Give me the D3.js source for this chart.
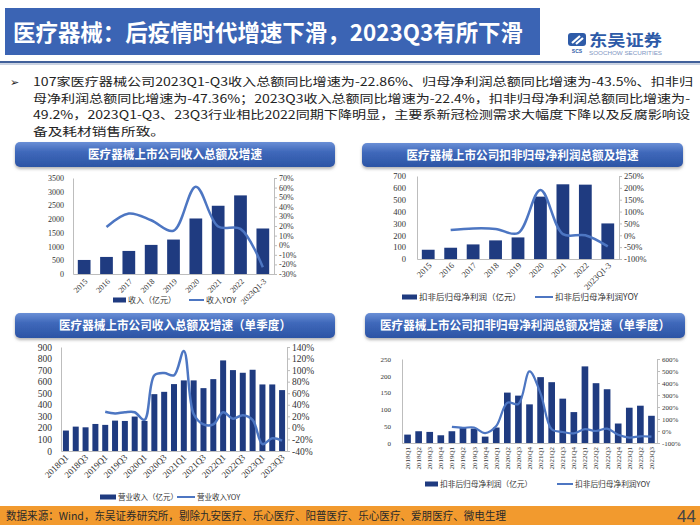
<!DOCTYPE html>
<html><head><meta charset="utf-8">
<script src="https://cdn.jsdelivr.net/npm/d3@7"></script>
<style>body{margin:0;background:#fff}svg{display:block}</style>
</head><body><svg id="c" width="700" height="525"></svg>
<script>
// ---------- data ----------
const annualCats = ["2015","2016","2017","2018","2019","2020","2021","2022","2023Q1-3"];
const revenueAnnual = [512,622,841,1061,1256,2024,2488,2866,1659];
const revenueAnnualYoY = [null,19,33,26,15,61,19.5,17,-23];
const profitAnnual = [78,95,123,157,182,526,630,627,300];
const profitAnnualYoY = [null,22,29,27,9,191,5,0,-47];
const quarterCats = ["2018Q1","2018Q2","2018Q3","2018Q4","2019Q1","2019Q2","2019Q3","2019Q4",
  "2020Q1","2020Q2","2020Q3","2020Q4","2021Q1","2021Q2","2021Q3","2021Q4",
  "2022Q1","2022Q2","2022Q3","2022Q4","2023Q1","2023Q2","2023Q3"];
const revenueQuarter = [177,211,205,234,226,263,260,298,260,492,512,579,611,611,544,622,784,700,677,703,576,576,527];
const revenueQuarterYoY = [null,null,null,null,28,25,27,27,14,91,95,91,133,24,6,6,27,16,22,14,-28,-18,-22];
const profitQuarter = [25,35,33,23,35,45,43,19,46,150,141,115,196,181,132,92,228,178,160,58,105,111,81];
const profitQuarterYoY = [null,null,null,null,34,27,29,-17,42,236,225,497,312,14,-8,-20,15,0,20,-32,-55,-44,-47];

const revTicksL = [0,500,1000,1500,2000,2500,3000,3500];
const revTicksR = [-30,-20,-10,0,10,20,30,40,50,60,70];
const proTicksL = [0,100,200,300,400,500,600,700];
const proTicksR = [-100,-50,0,50,100,150,200,250];
const revQTicksL = [0,100,200,300,400,500,600,700,800,900];
const revQTicksR = [-40,-20,0,20,40,60,80,100,120,140];
const proQTicksL = [0,50,100,150,200,250];
const proQTicksR = [-100,0,100,200,300,400,500,600];

const titleText = "医疗器械：后疫情时代增速下滑，2023Q3有所下滑";
const bulletLines = [
  "107家医疗器械公司2023Q1-Q3收入总额同比增速为-22.86%、归母净利润总额同比增速为-43.5%、扣非归",
  "母净利润总额同比增速为-47.36%；2023Q3收入总额同比增速为-22.4%，扣非归母净利润总额同比增速为-",
  "49.2%，2023Q1-Q3、23Q3行业相比2022同期下降明显，主要系新冠检测需求大幅度下降以及反腐影响设",
  "备及耗材销售所致。"
];
const footText = "数据来源：Wind，东吴证券研究所，剔除九安医疗、乐心医疗、阳普医疗、乐心医疗、爱朋医疗、微电生理";

// ---------- styles ----------
const CJK = "'Noto Sans CJK SC','Noto Sans',sans-serif";
const SERIF = "'Liberation Serif','DejaVu Serif',serif";
const BAR = "#1f3b80", LINE = "#4d76c2", AX = "#bdbdbd", TXT = "#333";

const svg = d3.select("#c");
svg.append("rect").attr("width",700).attr("height",525).attr("fill","#fff");
const defs = svg.append("defs");
const gr = defs.append("linearGradient").attr("id","hdr").attr("x1",0).attr("y1",0).attr("x2",0).attr("y2",1);
gr.append("stop").attr("offset","0%").attr("stop-color","#6a8fd6");
gr.append("stop").attr("offset","40%").attr("stop-color","#3f68ba");
gr.append("stop").attr("offset","100%").attr("stop-color","#2c55a5");
const fl = defs.append("filter").attr("id","sh").attr("x","-5%").attr("y","-20%").attr("width","110%").attr("height","160%");
fl.append("feDropShadow").attr("dx",0).attr("dy",2).attr("stdDeviation",1.5).attr("flood-color","#777").attr("flood-opacity",0.55);

// ---------- title ----------
svg.append("rect").attr("x",5).attr("y",8).attr("width",535).attr("height",47).attr("fill","#3b64b4");
svg.append("text").attr("x",13).attr("y",41).text(titleText)
  .attr("font-family",CJK).attr("font-weight","bold").attr("font-size",23).attr("fill","#fff")
  .attr("textLength",510).attr("lengthAdjust","spacingAndGlyphs");

// logo
svg.append("rect").attr("x",568).attr("y",33).attr("width",18).attr("height",13).attr("rx",3).attr("fill","#2e5ba8");
svg.append("path").attr("d","M572,43 L580,36 M576,44 L583,38").attr("stroke","#fff").attr("stroke-width",2.2).attr("fill","none");
svg.append("text").attr("x",577).attr("y",53).attr("text-anchor","middle").text("SCS")
  .attr("font-family","'Liberation Sans',sans-serif").attr("font-weight","bold").attr("font-size",5).attr("fill","#2e5ba8");
svg.append("text").attr("x",589).attr("y",46).text("东吴证券")
  .attr("font-family",CJK).attr("font-weight","bold").attr("font-size",16).attr("fill","#2e5ba8")
  .attr("textLength",73).attr("lengthAdjust","spacingAndGlyphs");
svg.append("text").attr("x",589).attr("y",55).text("SOOCHOW SECURITIES")
  .attr("font-family","'Liberation Sans',sans-serif").attr("font-size",5).attr("fill","#8096c2")
  .attr("textLength",73).attr("lengthAdjust","spacingAndGlyphs");

// separator
svg.append("rect").attr("x",0).attr("y",61).attr("width",700).attr("height",2.2).attr("fill","#42619b");
svg.append("rect").attr("x",0).attr("y",63.2).attr("width",700).attr("height",1.8).attr("fill","#c9d2e2");

// bullet text
svg.append("text").attr("x",10).attr("y",86).text("➢").attr("font-family","'DejaVu Sans',sans-serif").attr("font-size",11).attr("fill","#222");
const lineEnds = [693, 690, 690, null];
bulletLines.forEach((t,i)=>{
  const tx = svg.append("text").attr("x",33).attr("y",86+i*16.7).text(t)
    .attr("font-family",CJK).attr("font-size",11.5).attr("fill","#222");
  if (lineEnds[i]) tx.attr("textLength",lineEnds[i]-33).attr("lengthAdjust","spacingAndGlyphs");
  else tx.attr("textLength",132).attr("lengthAdjust","spacingAndGlyphs");
});

// ---------- chart helper ----------
function header(x,y,w,h,t){
  svg.append("rect").attr("x",x).attr("y",y).attr("width",w).attr("height",h).attr("rx",5)
    .attr("fill","url(#hdr)").attr("filter","url(#sh)");
  const tl = t.length*11.6;
  svg.append("text").attr("x",x+w/2).attr("y",y+h/2+4.5).attr("text-anchor","middle").text(t)
    .attr("font-family",CJK).attr("font-weight","bold").attr("font-size",12.5).attr("fill","#fff")
    .attr("textLength",tl).attr("lengthAdjust","spacingAndGlyphs");
}

function chart(o){
  const x = d3.scaleBand().domain(o.cats).range([o.x0,o.x1]).paddingInner(o.pad).paddingOuter(o.pad/2);
  const yL = d3.scaleLinear().domain([o.lTicks[0], o.lTicks[o.lTicks.length-1]]).range([o.yB,o.yT]);
  const yR = d3.scaleLinear().domain([o.rTicks[0], o.rTicks[o.rTicks.length-1]]).range([o.yB,o.yT]);
  const g = svg.append("g");
  const cx = c => x(c)+x.bandwidth()/2;

  const gl = g.append("g").attr("transform",`translate(${o.x0},0)`)
    .call(d3.axisLeft(yL).tickValues(o.lTicks).tickSize(0).tickPadding(o.lPad).tickFormat(d3.format("d")));
  const gr = g.append("g").attr("transform",`translate(${o.x1},0)`)
    .call(d3.axisRight(yR).tickValues(o.rTicks).tickSize(3).tickPadding(2).tickFormat(d=>d+"%"));
  [gl,gr].forEach(a=>{
    a.select(".domain").attr("stroke",AX);
    a.selectAll(".tick line").attr("stroke",AX);
    a.selectAll("text").attr("font-family",SERIF).attr("font-size",o.fs).attr("fill",TXT);
  });

  g.append("g").selectAll("rect").data(o.bars).join("rect")
    .attr("x",(d,i)=>x(o.cats[i])).attr("y",d=>yL(d))
    .attr("width",x.bandwidth()).attr("height",d=>yL(0)-yL(d)).attr("fill",BAR);

  const gb = g.append("g").attr("transform",`translate(0,${o.yB})`)
    .call(d3.axisBottom(x).tickValues(o.cats.filter((c,i)=>i%o.every===0)).tickSize(0));
  gb.select(".domain").attr("stroke",AX);
  gb.selectAll("text").attr("font-family",SERIF).attr("font-size",o.xfs).attr("fill",TXT);
  if (o.vertical){
    gb.selectAll("text").attr("text-anchor","end").attr("dy",null).attr("y",0)
      .attr("transform",`translate(${o.xfs*0.35},${o.xdy}) rotate(-90)`);
  } else {
    gb.selectAll("text").attr("text-anchor","end").attr("dy",null).attr("y",0)
      .attr("transform",`translate(${o.xdx},${o.xdy}) rotate(-45)`);
  }

  const idx = o.cats.map((c,i)=>i);
  const line = d3.line().defined(i=>o.yoy[i]!=null)
    .x(i=>cx(o.cats[i])).y(i=>yR(o.yoy[i])).curve(d3.curveCatmullRom.alpha(0.5));
  g.append("path").datum(idx).attr("d",line).attr("fill","none").attr("stroke",LINE).attr("stroke-width",o.lw);

  const L = o.leg;
  g.append("rect").attr("x",L.b0).attr("y",L.y-2.5).attr("width",L.b1-L.b0).attr("height",5).attr("fill",BAR);
  g.append("text").attr("x",L.b1+2).attr("y",L.y+3).text(L.t1).attr("font-family",CJK).attr("font-size",L.fs).attr("fill",TXT);
  g.append("line").attr("x1",L.l0).attr("x2",L.l1).attr("y1",L.y).attr("y2",L.y).attr("stroke",LINE).attr("stroke-width",2);
  g.append("text").attr("x",L.l1+2).attr("y",L.y+3).text(L.t2).attr("font-family",CJK).attr("font-size",L.fs).attr("fill",TXT);
}

header(15,142,320,25,"医疗器械上市公司收入总额及增速");
chart({cats:annualCats,bars:revenueAnnual,yoy:revenueAnnualYoY,lTicks:revTicksL,rTicks:revTicksR,
  x0:73,x1:274,yT:178,yB:274,pad:0.43,fs:8,xfs:8,lPad:9,every:1,xdx:4,xdy:8,lw:2.5,
  leg:{y:300,b0:113,b1:126,t1:"收入（亿元）",l0:189,l1:204,t2:"收入YOY",fs:8}});

header(362,143,321,24,"医疗器械上市公司扣非归母净利润总额及增速");
chart({cats:annualCats,bars:profitAnnual,yoy:profitAnnualYoY,lTicks:proTicksL,rTicks:proTicksR,
  x0:417,x1:619,yT:176,yB:259,pad:0.43,fs:8.5,xfs:8.5,lPad:11,every:1,xdx:4,xdy:7,lw:2.5,
  leg:{y:297,b0:402,b1:417,t1:"扣非后归母净利润（亿元）",l0:535,l1:553,t2:"扣非后归母净利润YOY",fs:8.5}});

header(15,313,320,25,"医疗器械上市公司收入总额及增速（单季度）");
chart({cats:quarterCats,bars:revenueQuarter,yoy:revenueQuarterYoY,lTicks:revQTicksL,rTicks:revQTicksR,
  x0:61,x1:287,yT:347,yB:451,pad:0.39,fs:9.5,xfs:9,lPad:9,every:2,xdx:3,xdy:7,lw:2.5,
  leg:{y:497,b0:100,b1:116,t1:"营业收入（亿元）",l0:177,l1:195,t2:"营业收入YOY",fs:7.5}});

header(365,313,320,25,"医疗器械上市公司扣非归母净利润总额及增速（单季度）");
chart({cats:quarterCats,bars:profitQuarter,yoy:profitQuarterYoY,lTicks:proQTicksL,rTicks:proQTicksR,
  x0:402,x1:657,yT:359,yB:443,pad:0.4,fs:7,xfs:7,lPad:11,every:1,vertical:true,xdy:4,lw:2.2,
  leg:{y:484,b0:425,b1:438,t1:"扣非后归母净利润（亿元）",l0:557,l1:573,t2:"扣非后归母净利润YOY",fs:7.7}});

svg.append("rect").attr("x",0).attr("y",506).attr("width",700).attr("height",19).attr("fill","#f29a2e");
svg.append("text").attr("x",6).attr("y",520).text(footText)
  .attr("font-family",CJK).attr("font-size",11).attr("fill","#2a2a2a")
  .attr("textLength",500).attr("lengthAdjust","spacingAndGlyphs");
svg.append("text").attr("x",696).attr("y",522).attr("text-anchor","end").text("44")
  .attr("font-family","'Liberation Sans',sans-serif").attr("font-size",17).attr("fill","#444");
</script></body></html>
